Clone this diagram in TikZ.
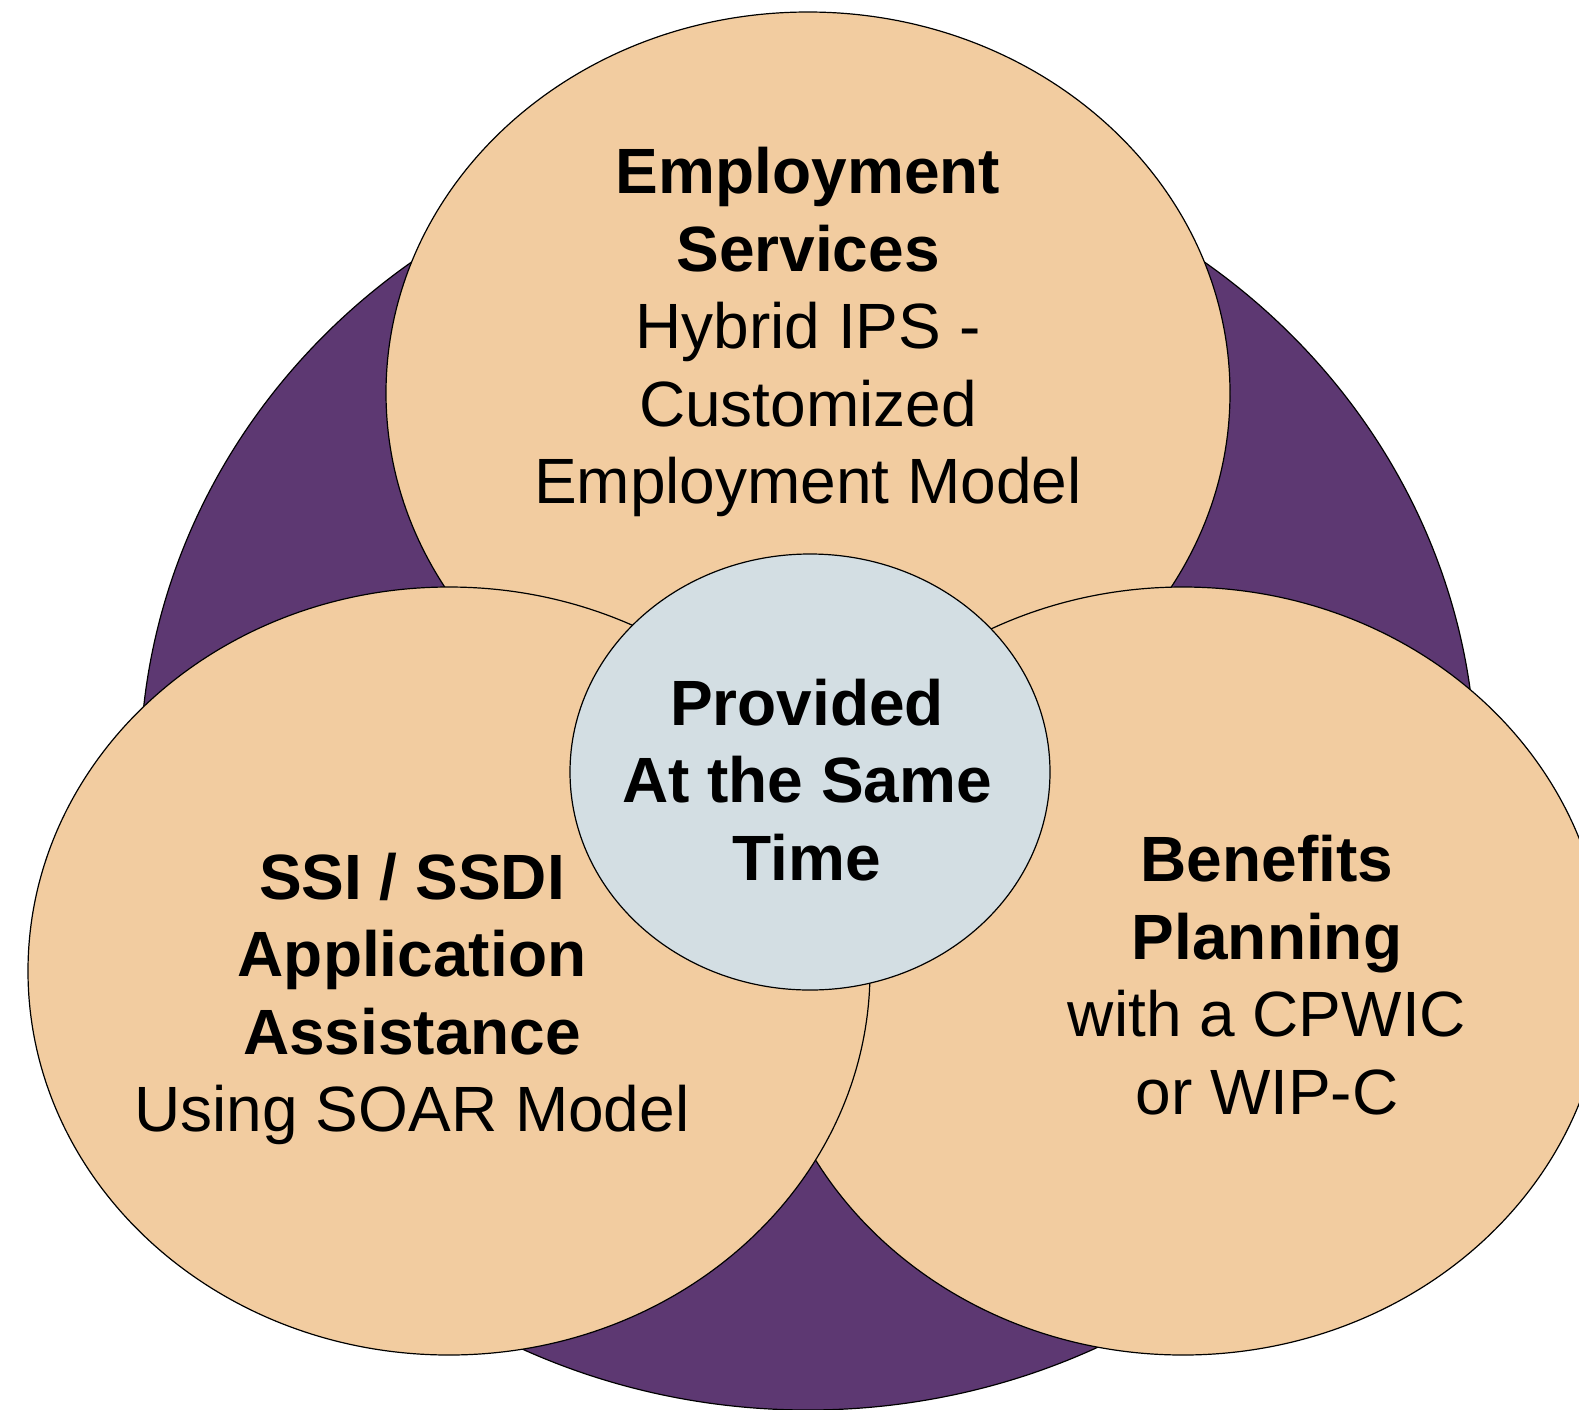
\documentclass[tikz,border=0pt]{standalone}
\usepackage{fontspec}
\setmainfont{Liberation Sans}
\definecolor{tan}{HTML}{F2CCA0}
\definecolor{plum}{HTML}{5D3872}
\definecolor{mist}{HTML}{D3DEE3}
\tikzstyle{petal} = [fill=tan, draw=black, line width=0.6pt]
\tikzstyle{txt} = [align=center, inner sep=0pt, font=\fontsize{32}{38.75}\selectfont]
\begin{document}
\begin{tikzpicture}[x=0.5pt,y=-0.5pt]
			\useasboundingbox (0,0) rectangle (1579,1409);
			\filldraw [fill=plum, draw=black, line width=0.6pt] (808,774) ellipse [x radius=668, y radius=636];
			\filldraw [petal] (808,393) ellipse [x radius=422, y radius=381];
			\filldraw [petal] (1183,971) ellipse [x radius=422, y radius=384];
			\filldraw [petal] (449,971) ellipse [x radius=421, y radius=384];
			\filldraw [fill=mist, draw=black, line width=0.6pt] (810,772) ellipse [x radius=240, y radius=218];
			\node [txt] (employ) at (808,332) {\textbf{Employment}\\\textbf{Services}\\Hybrid IPS -\\Customized\\Employment Model};
			\node [txt] (same) at (807,780) {\textbf{Provided}\\\textbf{At the Same}\\\textbf{Time}};
			\node [txt] (ssi) at (412,999) {\textbf{SSI / SSDI}\\\textbf{Application}\\\textbf{Assistance}\\Using SOAR Model};
			\node [txt] (benefits) at (1267,975) {\textbf{Benefits}\\\textbf{Planning}\\with a CPWIC\\or WIP-C};
		\end{tikzpicture}
\end{document}
